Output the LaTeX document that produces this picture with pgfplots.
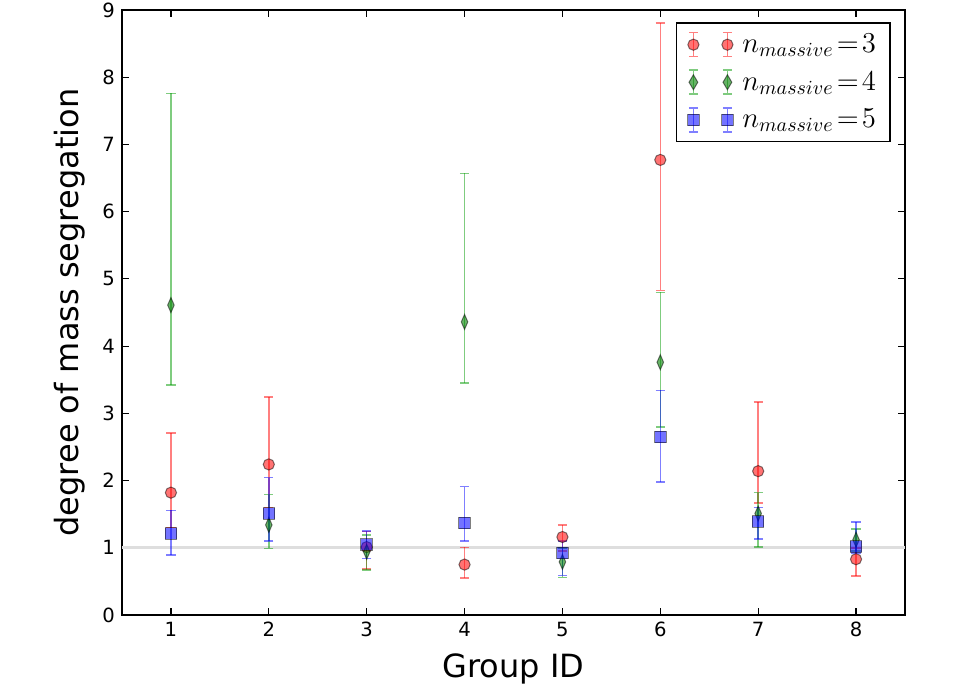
\documentclass[border=0pt]{standalone}
\usepackage{pgfplots}
\usepackage{pgfplotstable}
\pgfplotsset{compat=1.18}
\usepackage{fontspec}
\setmainfont{DejaVu Sans}

\pgfplotstableread{
x y ep em
1 1.82 0.89 0.52
2 2.24 1.00 0.64
3 1.01 0.23 0.33
4 0.75 0.255 0.20
5 1.16 0.18 0.21
6 6.77 2.04 1.94
7 2.14 1.03 0.47
8 0.83 0.17 0.25
}\redtab
\pgfplotstableread{
x y ep em
1 4.61 3.15 1.19
2 1.34 0.45 0.35
3 0.94 0.25 0.27
4 4.36 2.21 0.91
5 0.79 0.21 0.23
6 3.76 1.04 0.96
7 1.51 0.31 0.50
8 1.12 0.16 0.17
}\greentab
\pgfplotstableread{
x y ep em
1 1.21 0.345 0.32
2 1.51 0.535 0.41
3 1.05 0.20 0.21
4 1.37 0.54 0.27
5 0.92 0.18 0.33
6 2.65 0.69 0.675
7 1.39 0.21 0.26
8 1.02 0.36 0.10
}\bluetab

\newcommand{\legimg}[2]{%
  \path (0pt,0pt) (25pt,0pt);
  \foreach \xx in {3pt,20pt}{%
    \draw[#1, opacity=0.5, line width=0.8pt] (\xx,-6pt) -- (\xx,6pt)
      (\xx-2.3pt,-6pt) -- (\xx+2.3pt,-6pt) (\xx-2.3pt,6pt) -- (\xx+2.3pt,6pt);
    #2
  }%
}

\begin{document}
\begin{tikzpicture}
\path[use as bounding box] (-61pt,-34.5pt) rectangle (419pt,307.5pt);
\begin{axis}[
  at={(0,0)}, anchor=south west,
  scale only axis,
  width=391.5pt, height=302.5pt,
  xmin=0.5, xmax=8.5, ymin=0, ymax=9,
  xtick={1,...,8}, ytick={0,...,9},
  tick align=inside,
  major tick length=3.5pt,
  every tick/.style={black, line width=0.6pt},
  axis line style={line width=0.9pt},
  /pgf/number format/assume math mode=true,
  tick label style={font=\fontsize{9.8}{11}\selectfont},
  xlabel={Group ID},
  ylabel={degree of mass segregation},
  label style={font=\fontsize{16}{19}\selectfont},
  xlabel style={at={(axis description cs:0.5,-0.1025)}, anchor=base},
  ylabel style={at={(axis description cs:-0.0664,0.5)}, anchor=center},
  legend style={at={(1,1)}, anchor=north east, xshift=-7pt, yshift=-6pt,
    draw=black, line width=0.9pt, font=\fontsize{14}{16}\selectfont,
    row sep=4pt, inner xsep=5pt, inner ysep=3.5pt},
  legend cell align=left,
  error bars/y dir=both,
  error bars/y explicit,
]
\addplot[forget plot, color=black!13, line width=1.6pt] coordinates {(0.5,1) (8.5,1)};

\addplot[only marks, mark=*, mark size=2.8pt,
  mark options={fill=red, fill opacity=0.55, draw=black, draw opacity=0.5, line width=0.5pt},
  error bars/error bar style={red, opacity=0.5, line width=0.8pt},
  error bars/error mark options={red, opacity=0.5, line width=0.8pt, mark size=2.3pt, rotate=90},
  legend image code/.code={\legimg{red}{\draw[fill=red, fill opacity=0.55, draw=black, draw opacity=0.5, line width=0.5pt] (\xx,0) circle (2.8pt);}}
] table[x=x, y=y, y error plus=ep, y error minus=em] {\redtab};
\addlegendentry{$n_{massive}\!=\!3$}

\addplot[only marks, mark=diamond*, mark size=3.75pt,
  mark options={xscale=0.58, fill=green!50!black, fill opacity=0.6, draw=black, draw opacity=0.5, line width=0.5pt},
  error bars/error bar style={green!60!black, opacity=0.5, line width=0.8pt},
  error bars/error mark options={green!60!black, opacity=0.5, line width=0.8pt, mark size=2.3pt, rotate=90},
  legend image code/.code={\legimg{green!60!black}{\draw[fill=green!50!black, fill opacity=0.6, draw=black, draw opacity=0.5, line width=0.5pt] (\xx,3.75pt) -- (\xx+2.2pt,0) -- (\xx,-3.75pt) -- (\xx-2.2pt,0) -- cycle;}}
] table[x=x, y=y, y error plus=ep, y error minus=em] {\greentab};
\addlegendentry{$n_{massive}\!=\!4$}

\addplot[only marks, mark=square*, mark size=2.9pt,
  mark options={fill=blue, fill opacity=0.55, draw=black, draw opacity=0.5, line width=0.5pt},
  error bars/error bar style={blue, opacity=0.5, line width=0.8pt},
  error bars/error mark options={blue, opacity=0.5, line width=0.8pt, mark size=2.3pt, rotate=90},
  legend image code/.code={\legimg{blue}{\draw[fill=blue, fill opacity=0.55, draw=black, draw opacity=0.5, line width=0.5pt] (\xx-2.9pt,-2.9pt) rectangle (\xx+2.9pt,2.9pt);}}
] table[x=x, y=y, y error plus=ep, y error minus=em] {\bluetab};
\addlegendentry{$n_{massive}\!=\!5$}
\end{axis}
\end{tikzpicture}
\end{document}
